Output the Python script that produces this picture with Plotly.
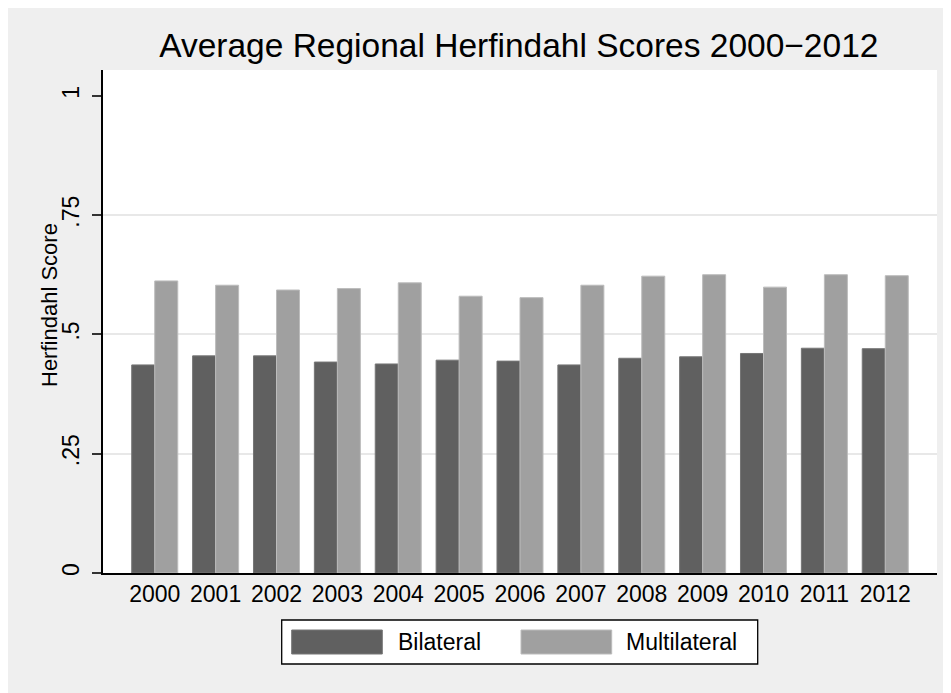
import plotly.graph_objects as go

years = ["2000", "2001", "2002", "2003", "2004", "2005", "2006",
         "2007", "2008", "2009", "2010", "2011", "2012"]
bilateral = [0.436, 0.455, 0.455, 0.442, 0.438, 0.446, 0.444,
             0.436, 0.450, 0.453, 0.460, 0.471, 0.470]
multilateral = [0.612, 0.603, 0.593, 0.596, 0.608, 0.580, 0.577,
                0.603, 0.622, 0.625, 0.599, 0.625, 0.623]
y_tickvals = [0, 0.25, 0.5, 0.75, 1]
y_ticktext = ["0", ".25", ".5", ".75", "1"]
series_names = ["Bilateral", "Multilateral"]

DARK = "#606060"
LIGHT = "#a0a0a0"
BG = "#efefef"
FONT = "Liberation Sans, Arial, Helvetica, sans-serif"

# page offset of the figure inside the html body
OFF = 8
W, H = 951, 693
L, T = 103 - OFF, 70 - OFF
pw, ph = 937 - 103, 573 - 70
R = W - L - pw
B = H - T - ph


def px_x(sx):
    return (sx - OFF - L) / pw


def px_y(sy):
    return (T + ph - (sy - OFF)) / ph


fig = go.Figure()
fig.add_trace(go.Bar(x=years, y=bilateral, name=series_names[0],
                     marker=dict(color=DARK, line=dict(color="#767676", width=1)),
                     showlegend=False))
fig.add_trace(go.Bar(x=years, y=multilateral, name=series_names[1],
                     marker=dict(color=LIGHT, line=dict(color="#bcbcbc", width=1)),
                     showlegend=False))

shapes = [
    # legend box
    dict(type="rect", xref="paper", yref="paper",
         x0=px_x(281.7), x1=px_x(757.7), y0=px_y(620), y1=px_y(664),
         fillcolor="white", line=dict(color="black", width=1.3)),
    dict(type="rect", xref="paper", yref="paper",
         x0=px_x(291.7), x1=px_x(382.3), y0=px_y(630), y1=px_y(654),
         fillcolor=DARK, line=dict(color="#767676", width=1)),
    dict(type="rect", xref="paper", yref="paper",
         x0=px_x(521), x1=px_x(611.7), y0=px_y(630), y1=px_y(654),
         fillcolor=LIGHT, line=dict(color="#bcbcbc", width=1)),
]

annotations = [
    dict(text="Herfindahl Score", xref="paper", yref="paper",
         x=px_x(49), y=px_y(305), xanchor="center", yanchor="middle",
         textangle=-90, showarrow=False,
         font=dict(family=FONT, size=22, color="black")),
    dict(text=series_names[0], xref="paper", yref="paper",
         x=px_x(396), y=px_y(642), xanchor="left", yanchor="middle",
         showarrow=False, font=dict(family=FONT, size=23, color="black")),
    dict(text=series_names[1], xref="paper", yref="paper",
         x=px_x(624), y=px_y(642), xanchor="left", yanchor="middle",
         showarrow=False, font=dict(family=FONT, size=23, color="black")),
]

fig.update_layout(
    width=W, height=H,
    margin=dict(l=L, r=R, t=T, b=B, pad=0),
    paper_bgcolor=BG, plot_bgcolor="white",
    barmode="group", bargap=0.244, bargroupgap=0,
    font=dict(family=FONT, size=23, color="black"),
    title=dict(text="Average Regional Herfindahl Scores 2000\u22122012",
               x=(518.8 - OFF) / W, xanchor="center", xref="container",
               y=1 - (45 - OFF) / H, yanchor="middle", yref="container",
               font=dict(family=FONT, size=33.5, color="black")),
    xaxis=dict(type="category", range=[-0.85, 12.85],
               showline=True, linecolor="black", linewidth=1.5,
               ticks="", showgrid=False, zeroline=False,
               tickfont=dict(family=FONT, size=23, color="black")),
    yaxis=dict(range=[0, 1.054], tickvals=y_tickvals, ticktext=y_ticktext,
               tickangle=-90, ticks="outside", ticklen=9, tickwidth=1.5,
               tickcolor="#333333", ticklabelstandoff=4,
               showline=True, linecolor="black", linewidth=1.5,
               showgrid=False, zeroline=False,
               tickfont=dict(family=FONT, size=23, color="black")),
    yaxis2=dict(overlaying="y", matches="y", range=[0, 1.054],
                tickvals=y_tickvals[1:4], showticklabels=False,
                showgrid=True, gridcolor="#e8e8e8", gridwidth=1.5,
                zeroline=False, showline=False, ticks=""),
    shapes=shapes,
    annotations=annotations,
)
# invisible trace to activate the grid axis
fig.add_trace(go.Scatter(x=[years[0]], y=[0], yaxis="y2", mode="markers",
                         marker=dict(opacity=0), showlegend=False,
                         hoverinfo="skip"))

fig.write_html("out.html")
